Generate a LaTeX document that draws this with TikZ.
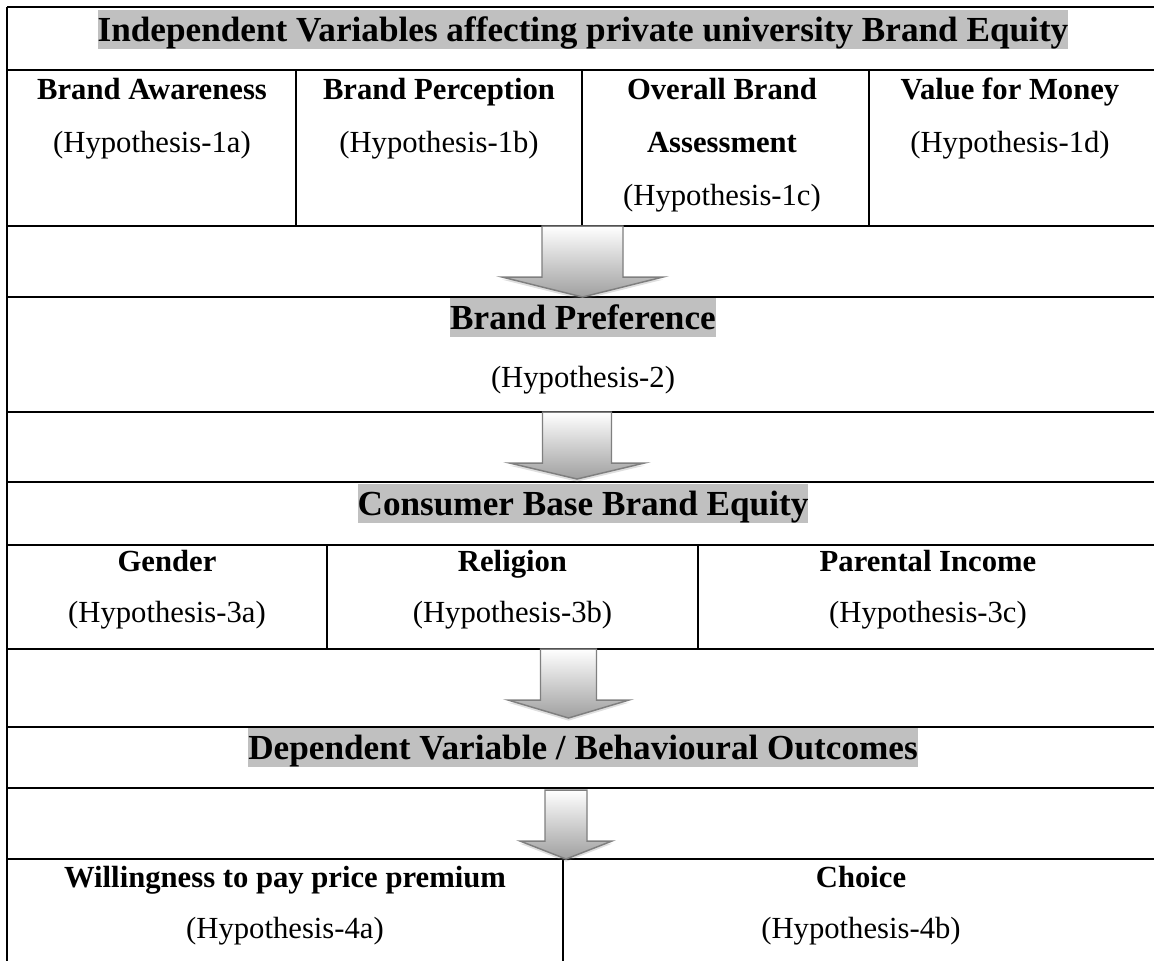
\documentclass[tikz,border=0pt]{standalone}
\usepackage{fontspec}
\setmainfont{Liberation Serif}
\usetikzlibrary{shadows}
\definecolor{hlgray}{HTML}{C0C0C0}
\definecolor{arrowline}{HTML}{7F7F7F}

\begin{document}
\begin{tikzpicture}[x=0.375pt,y=-0.375pt,
    heading/.style={fill=hlgray,inner sep=0pt,text height=11.6pt,text depth=3pt,anchor=base,
                    font=\fontsize{13.2}{15}\selectfont\bfseries},
    celltitle/.style={inner sep=0pt,anchor=base,font=\fontsize{11.5}{13}\selectfont\bfseries},
    hyp/.style={inner sep=0pt,anchor=base,font=\fontsize{11.5}{13}\selectfont},
    blockarrow/.style={draw=arrowline,line width=0.55pt,line join=miter,
                       top color=white,bottom color=gray!75,
                       drop shadow={shadow xshift=0pt,shadow yshift=-1pt,opacity=0.25,fill=gray}}]
                \useasboundingbox (0,0) rectangle (1154,960);
                \clip (0,0) rectangle (1154,960);

                % table frame
                \coordinate (tl) at (7,7);
                \coordinate (bl) at (7,962);
                \draw[line width=0.85pt] (tl) -- (bl);
                \draw[line width=0.85pt] (1159,7) -- (1159,962) -- (bl);

                % horizontal rules
                \foreach \y/\w in {7/0.85pt,70/0.85pt,226/0.5pt,297/0.85pt,412/0.85pt,482/0.5pt,
                                   545/0.85pt,649/0.85pt,727/0.85pt,788/0.5pt,859/0.85pt}
                        \draw[line width=\w] (7,\y) -- (1159,\y);

                % cell dividers
                \foreach \x in {296,582,869}
                        \draw[line width=0.65pt] (\x,70) -- (\x,226);
                \foreach \x in {327,698}
                        \draw[line width=0.65pt] (\x,545) -- (\x,649);
                \draw[line width=0.5pt] (563,859) -- (563,962);

                % block arrows
                \foreach \cx/\top/\base/\tip/\sw/\hw in {582.5/226/277/297/40.5/80.5,
                                                         577/412/463/479/34.5/67.5,
                                                         568.5/649/700/718/28/60.5,
                                                         566/790/841/859/21/46}
                        \draw[blockarrow] (\cx-\sw,\top) -- (\cx+\sw,\top) -- (\cx+\sw,\base)
                                -- (\cx+\hw,\base) -- (\cx,\tip) -- (\cx-\hw,\base)
                                -- (\cx-\sw,\base) -- cycle;

                \node[heading] (indep) at (583,41) {Independent Variables affecting private university Brand Equity};

                \node[celltitle] (aware) at (152,99) {Brand Awareness};
                \node[hyp] (h1a) at (152,152) {(Hypothesis-1a)};
                \node[celltitle] (percep) at (439,99) {Brand Perception};
                \node[hyp] (h1b) at (439,152) {(Hypothesis-1b)};
                \node[celltitle] (overall) at (722,99) {Overall Brand};
                \node[celltitle] (assess) at (722,152) {Assessment};
                \node[hyp] (h1c) at (722,205) {(Hypothesis-1c)};
                \node[celltitle] (value) at (1010,99) {Value for Money};
                \node[hyp] (h1d) at (1010,152) {(Hypothesis-1d)};

                \node[heading] (pref) at (583,329) {Brand Preference};
                \node[hyp] (h2) at (583,387) {(Hypothesis-2)};

                \node[heading] (cbbe) at (583,515) {Consumer Base Brand Equity};

                \node[celltitle] (gender) at (167,571) {Gender};
                \node[hyp] (h3a) at (167,622) {(Hypothesis-3a)};
                \node[celltitle] (relig) at (512.5,571) {Religion};
                \node[hyp] (h3b) at (512.5,622) {(Hypothesis-3b)};
                \node[celltitle] (income) at (928,571) {Parental Income};
                \node[hyp] (h3c) at (928,622) {(Hypothesis-3c)};

                \node[heading] (dep) at (583,759) {Dependent Variable / Behavioural Outcomes};

                \node[celltitle] (wtp) at (285,887) {Willingness to pay price premium};
                \node[hyp] (h4a) at (285,938) {(Hypothesis-4a)};
                \node[celltitle] (choice) at (861,887) {Choice};
                \node[hyp] (h4b) at (861,938) {(Hypothesis-4b)};
\end{tikzpicture}
\end{document}
